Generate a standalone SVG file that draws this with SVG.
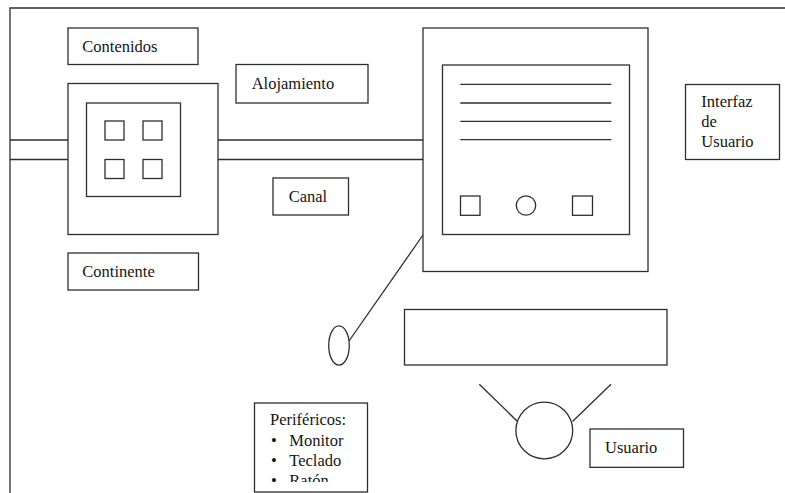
<svg xmlns="http://www.w3.org/2000/svg" width="785" height="493" viewBox="0 0 785 493">
  <style>
    .box { fill: #fff; stroke: #2e2e2e; stroke-width: 1.3; }
    .ln { fill: none; stroke: #2e2e2e; stroke-width: 1.3; }
    .lbl { font-family: "Liberation Serif", "Times New Roman", serif; font-size: 16.5px; fill: #151515; }
  </style>
  <defs>
    <clipPath id="periClip">
      <rect x="255" y="404" width="112" height="78"/>
    </clipPath>
  </defs>
  <rect width="785" height="493" fill="#fff"/>

  <!-- page frame -->
  <g id="frame">
    <path class="ln" d="M10 493 V8 H785"/>
  </g>

  <!-- links between the blocks -->
  <g id="connectors">
    <line class="ln" x1="10" y1="140" x2="68" y2="140"/>
    <line class="ln" x1="10" y1="159.5" x2="68" y2="159.5"/>
    <line class="ln" x1="218" y1="140" x2="423" y2="140"/>
    <line class="ln" x1="218" y1="159.5" x2="423" y2="159.5"/>
    <line class="ln" x1="423" y1="235" x2="349" y2="341"/>
  </g>

  <g id="contenidos">
    <rect class="box" x="68" y="28" width="130" height="36.5"/>
    <text class="lbl" x="82.3" y="52.3">Contenidos</text>
  </g>

  <g id="alojamiento">
    <rect class="box" x="236" y="64.5" width="132" height="38.5"/>
    <text class="lbl" x="251.7" y="89.3">Alojamiento</text>
  </g>

  <g id="servidor">
    <rect class="box" x="68" y="83.5" width="150" height="151"/>
    <rect class="box" x="86.5" y="103" width="94" height="93.5"/>
    <rect class="box" x="105" y="121" width="19" height="19"/>
    <rect class="box" x="143" y="121" width="19" height="19"/>
    <rect class="box" x="105" y="159.5" width="19" height="19"/>
    <rect class="box" x="143" y="159.5" width="19" height="19"/>
  </g>

  <g id="canal">
    <rect class="box" x="273" y="178" width="75.5" height="37"/>
    <text class="lbl" x="288.7" y="202.3">Canal</text>
  </g>

  <g id="continente">
    <rect class="box" x="68" y="253" width="130.5" height="37"/>
    <text class="lbl" x="82.3" y="277.3">Continente</text>
  </g>

  <g id="monitor">
    <rect class="box" x="423" y="28" width="225" height="243.5"/>
    <rect class="box" x="442.5" y="65" width="187" height="169.5"/>
    <line class="ln" x1="460.3" y1="84.3" x2="611.3" y2="84.3"/>
    <line class="ln" x1="460.3" y1="103" x2="611.3" y2="103"/>
    <line class="ln" x1="460.3" y1="121.3" x2="611.3" y2="121.3"/>
    <line class="ln" x1="460.3" y1="139.7" x2="611.3" y2="139.7"/>
    <rect class="box" x="460.5" y="196" width="19.5" height="19.3"/>
    <circle class="box" cx="526" cy="205.5" r="9.7"/>
    <rect class="box" x="572.5" y="196" width="20" height="19.3"/>
  </g>

  <g id="interfaz">
    <rect class="box" x="685.5" y="84.5" width="94" height="75"/>
    <text class="lbl" x="701.3" y="107.3">Interfaz</text>
    <text class="lbl" x="701.3" y="127">de</text>
    <text class="lbl" x="701.3" y="146.7">Usuario</text>
  </g>

  <g id="raton">
    <ellipse class="box" cx="339" cy="345.5" rx="10.3" ry="19.6"/>
  </g>

  <g id="teclado">
    <rect class="box" x="404.5" y="309.5" width="262.5" height="55.5"/>
  </g>

  <g id="perifericos">
    <rect class="box" x="254.5" y="403" width="113" height="89"/>
    <g clip-path="url(#periClip)" class="lbl">
      <text x="270" y="425">Periféricos:</text>
      <text x="271" y="445.7">•</text>
      <text x="289.3" y="445.7">Monitor</text>
      <text x="271" y="465.7">•</text>
      <text x="289.3" y="465.7">Teclado</text>
      <text x="271" y="485.7">•</text>
      <text x="289.3" y="485.7">Ratón</text>
    </g>
  </g>

  <g id="persona">
    <line class="ln" x1="479.3" y1="384.3" x2="517.5" y2="421.5"/>
    <line class="ln" x1="611" y1="384.3" x2="572.5" y2="421.5"/>
    <circle class="box" cx="544.3" cy="430.5" r="28.4"/>
  </g>

  <g id="usuario">
    <rect class="box" x="590" y="429" width="93.5" height="38.3"/>
    <text class="lbl" x="605" y="453.3">Usuario</text>
  </g>
</svg>
